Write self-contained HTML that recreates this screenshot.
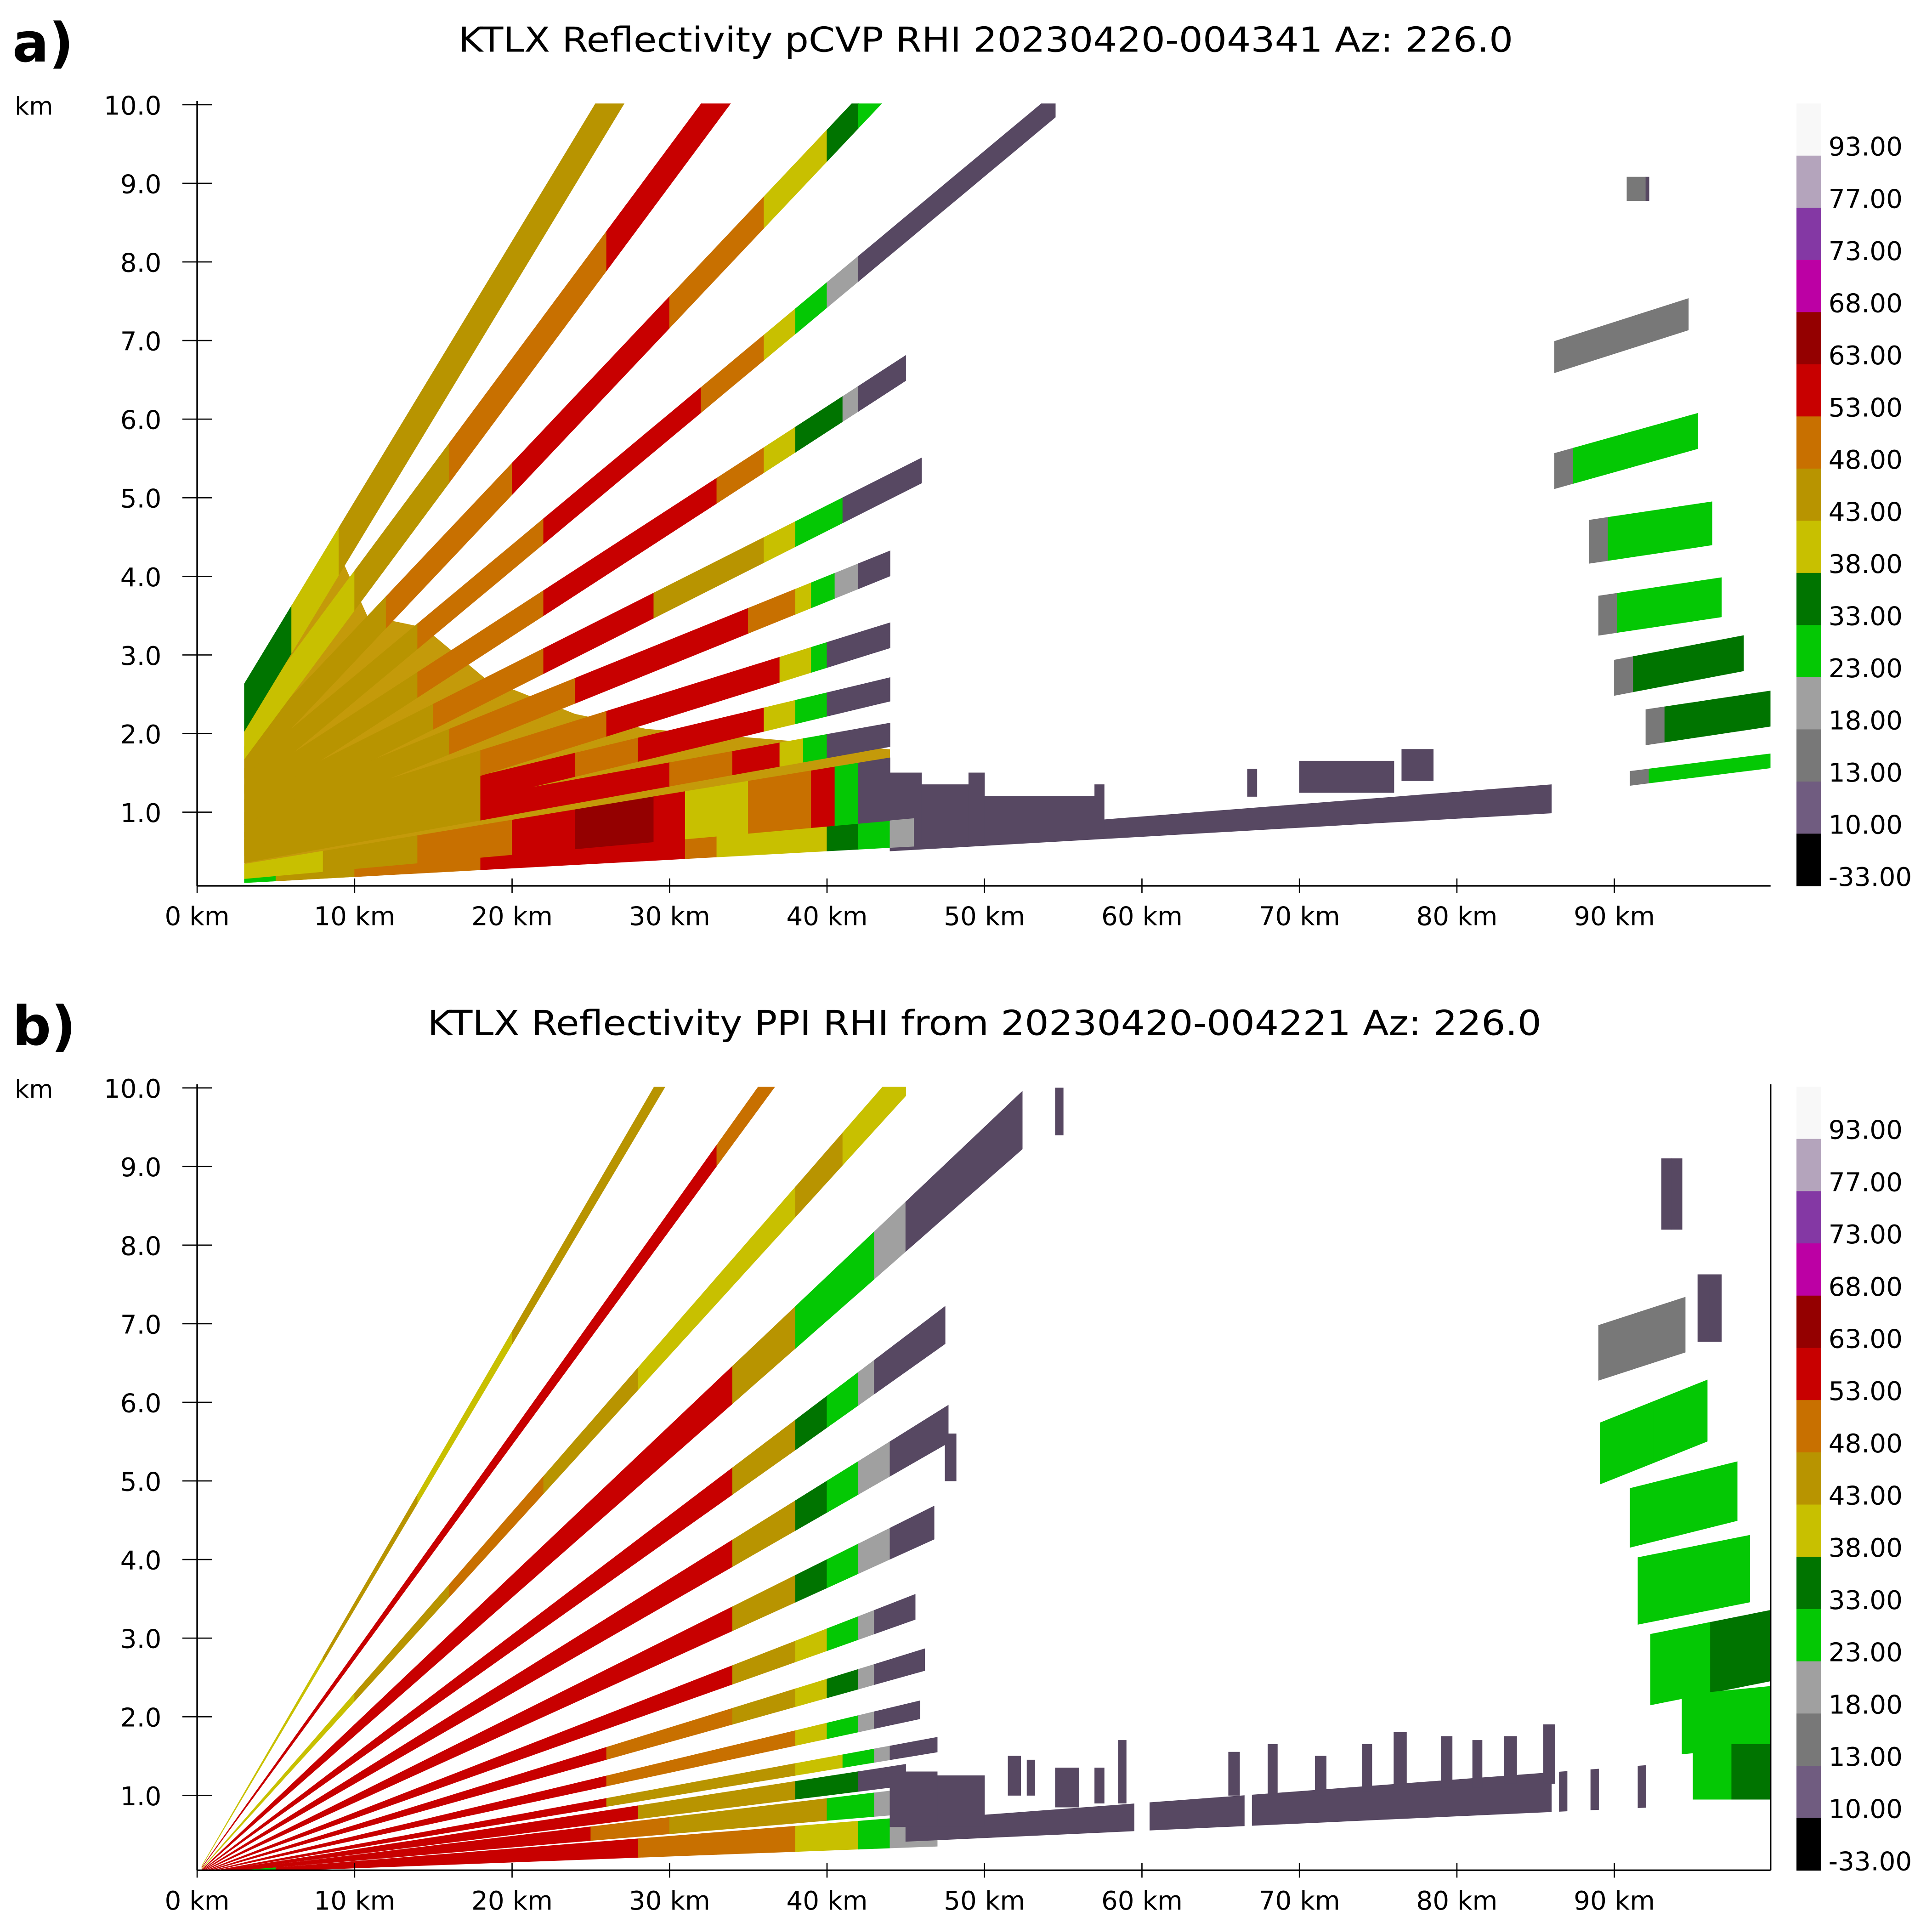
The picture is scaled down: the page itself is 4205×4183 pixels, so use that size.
<!DOCTYPE html>
<html><head><meta charset="utf-8">
<style>
html,body{margin:0;padding:0;background:#fff;}
svg{display:block;font-family:"DejaVu Sans","Liberation Sans",sans-serif;}
</style></head>
<body>
<svg id="fig" width="4205" height="4183" viewBox="0 0 1568 1560" preserveAspectRatio="none" xmlns="http://www.w3.org/2000/svg">
<rect x="0" y="0" width="1568" height="1560" fill="#fff"/>
<text x="10" y="50" font-size="44" font-weight="bold">a)</text>
<text x="372" y="42" font-size="28" textLength="856" lengthAdjust="spacingAndGlyphs">KTLX Reflectivity pCVP RHI 20230420-004341 Az: 226.0</text>
<text x="10" y="848" font-size="44" font-weight="bold">b)</text>
<text x="347" y="840" font-size="28" textLength="904" lengthAdjust="spacingAndGlyphs">KTLX Reflectivity PPI RHI from 20230420-004221 Az: 226.0</text>
<defs>
<clipPath id="clipA"><rect x="160" y="84" width="1277" height="635"/></clipPath>
<clipPath id="clipB"><rect x="160" y="882" width="1277" height="636"/></clipPath>
</defs>
<g id="panelA" clip-path="url(#clipA)"></g>
<g id="panelB" clip-path="url(#clipB)"></g>
<g id="axesA"></g>
<g id="axesB"></g>
</svg>
<script>
const cbLabels = ["93.00","77.00","73.00","68.00","63.00","53.00","48.00","43.00","38.00","33.00","23.00","18.00","13.00","10.00","-33.00"];
const cbColors = ["#f8f8f8","#b4a4bc","#8438a4","#bc00a4","#940000","#c80000","#c87000","#b89400","#c8c000","#007400","#04c804","#a0a0a0","#787878","#705c80","#000000"];
const cbThresh = [93,77,73,68,63,53,48,43,38,33,23,18,13,10,-33];
const xTicks = [0,10,20,30,40,50,60,70,80,90];
const yTicks = [1,2,3,4,5,6,7,8,9,10];

// ---- Panel a (pCVP): beam centre height = h0 + s*r, thickness w
const aBeamS  = [0.331,0.270,0.212,0.167,0.130,0.101,0.081,0.0625,0.048,0.036];
const aBeamH0 = [1.34,1.12,1.00,0.90,0.80,0.70,0.60,0.50,0.45,0.40];
const aBeamW  = [0.60,0.50,0.40,0.32,0.32,0.32,0.32,0.32,0.30,0.30];
const aBeamR0 = [3,3,3,3,3,3,3,3,3,3];
const aBeamR1 = [30,36,44,54.5,45,46,44,44,44,44];
const aSegR = [
 [6,9,13,18,30],
 [10,16,22,26,36],
 [12,20,30,36,40,42,44],
 [14,22,32,36,38,40,42,54.5],
 [14,22,27,33,36,38,41,42,45],
 [15,22,29,36,38,41,46],
 [16,24,35,38,39,40.5,42,44],
 [18,26,37,39,40,44],
 [18,24,28,36,38,40,44],
 [18,30,34,37,38.5,40,44]];
const aSegZ = [
 [37,40,43,45,47],
 [40,44,48,51,53],
 [44,48,55,50,40,35,28],
 [44,48,56,50,40,30,18,11],
 [44,48,57,60,50,40,35,18,11],
 [44,48,58,47,40,30,11],
 [44,48,57,49,40,28,18,11],
 [46,48,57,40,30,11],
 [47,56,48,57,40,30,11],
 [47,57,48,56,40,30,11]];
const aLowLoH0 = [0.07,0.10];
const aLowLoS  = [0.0109,0.018];
const aLowHiH0 = [0.10,0.24];
const aLowHiS  = [0.018,0.033];
const aLowSegR = [
 [5,10,18,31,33,38,40,42,44,45.5],
 [8,14,20,24,29,31,35,39,40.5,42,44]];
const aLowSegZ = [
 [28,44,50,56,48,42,39,35,27,18],
 [40,44,48,57,63,56,40,48,54,30,11]];
const aNearR = [3,3,9,10.8,14.4,18.3,24,28.5,44,44];
const aNearH = [0.1,2.35,4.3,3.5,3.35,2.7,2.25,2.06,1.8,0.55];
const aFarR0 = [91,92,90,89,88.4,86.2,86.2,90.8];
const aFarR1 = [99.9,99.9,98.2,96.8,96.2,95.3,94.7,92.2];
const aFarHc = [1.43,2.08,2.71,3.5,4.44,5.34,6.79,8.93];
const aFarS  = [0.025,0.03,0.038,0.03,0.03,0.056,0.064,0];
const aFarW  = [0.18,0.45,0.45,0.5,0.55,0.45,0.4,0.3];
const aFarZ  = [25,34,34,30,30,27,17,11];
const aBlockR0 = [44,46,49,50,57,66.7,70,76.5];
const aBlockR1 = [46,49,50,57,57.6,67.3,76,78.5];
const aBlockH0 = [0.55,0.6,0.6,0.7,0.8,1.2,1.25,1.4];
const aBlockH1 = [1.5,1.35,1.5,1.2,1.35,1.55,1.65,1.8];
const aThinR = [44,86];

// ---- Panel b (PPI)
const bBeamLo = [0.337,0.273,0.220,0.176,0.142,0.115,0.091,0.071,0.056,0.043,0.033,0.025,0.017,0.0075];
const bBeamHi = [0.345,0.281,0.230,0.190,0.152,0.125,0.100,0.078,0.062,0.048,0.037,0.031,0.024,0.016];
const bBeamR1 = [30,37,45,52.4,47.5,47.7,46.8,45.6,46.2,45.9,47,45,47,47];
const bSegR = [
 [8,14,20,25,30],
 [10,16,22,28,33,37],
 [10,16,22,28,34,38,41,45],
 [10,18,26,34,38,40,43,45,52.4],
 [10,18,26,34,38,40,42,43,47.5],
 [10,18,26,34,38,40,42,44,47.7],
 [10,18,26,34,38,40,42,44,46.8],
 [10,18,26,34,38,40,42,43,45.6],
 [10,18,26,34,38,40,42,43,46.2],
 [10,18,26,32,38,40,42,43,45.9],
 [10,18,26,32,38,41,43,44,47],
 [5,28,38,42,45],
 [5,25,30,40,43,47],
 [5,28,33,38,42,44,47]];
const bSegZ = [
 [40,44,42,46,45],
 [55,56,57,56,55,52],
 [42,46,50,44,40,40,44,40],
 [55,57,56,55,46,28,30,18,11],
 [55,57,56,55,46,35,28,18,11],
 [55,56,57,55,47,35,28,18,11],
 [55,56,58,55,47,35,28,18,11],
 [55,56,57,54,47,40,28,18,11],
 [56,57,55,52,47,40,35,18,11],
 [55,57,55,50,48,40,30,18,11],
 [56,58,55,47,44,40,28,18,11],
 [56,56,46,33,11],
 [56,56,50,44,30,18],
 [25,56,48,52,42,28,18]];
const bLowR0 = [45,60.5,67,86.5,88.5,91.5];
const bLowR1 = [59.5,66.5,86,87,89,92];
const bLowLo = 0.0092;
const bLowHi = 0.0150;
const bBlockR0 = [44,47,51.5,52.7,54.5,57,58.5,65.5,68,71,74,76,79,81,83,85.5,47.5,54.5];
const bBlockR1 = [47,50,52.3,53.2,56,57.6,59,66.2,68.6,71.7,74.6,76.8,79.7,81.6,83.8,86.2,48.2,55];
const bBlockH0 = [0.6,0.6,1.0,1.0,0.85,0.9,0.9,1.0,1.0,1.0,1.05,1.1,1.1,1.1,1.15,1.15,5.0,9.4];
const bBlockH1 = [1.3,1.25,1.5,1.45,1.35,1.35,1.7,1.55,1.65,1.5,1.65,1.8,1.75,1.7,1.75,1.9,5.6,10];
const bFarR0 = [89,95.3,89.1,91,91.5,92.3,94.3,95,93];
const bFarR1 = [94.5,96.8,95.9,97.8,98.6,99.9,99.9,99.9,94.3];
const bFarHc = [6.63,7.2,5.35,4.53,3.6,2.6,1.9,1.3,8.65];
const bFarS  = [0.065,0,0.08,0.05,0.04,0.04,0.02,0,0];
const bFarW  = [0.7,0.85,0.78,0.75,0.85,0.9,0.75,0.7,0.9];
const bFarZ  = [17,11,26,26,28,30,26,30,11];
const bFarZ2 = [17,11,27,28,30,34,30,34,11];

const SVGNS = "http://www.w3.org/2000/svg";
const XA = km => 160 + km * 12.78;
const YA = h => 723 - h * 63.8;
const YB = h => 1521 - h * 63.8;

function zColor(z){
  if (z >= 10 && z < 13) return "#574862";
  for (let i = 0; i < cbThresh.length; i++) if (z >= cbThresh[i]) return cbColors[i];
  return "#000";
}
function poly(g, Y, r0, r1, lo0, lo1, hi0, hi1, z){
  const p = document.createElementNS(SVGNS, "polygon");
  p.setAttribute("points", [[XA(r0),Y(lo0)],[XA(r1),Y(lo1)],[XA(r1),Y(hi1)],[XA(r0),Y(hi0)]].map(a=>a[0].toFixed(2)+","+a[1].toFixed(2)).join(" "));
  p.setAttribute("fill", zColor(z));
  p.setAttribute("stroke", zColor(z));
  p.setAttribute("stroke-width", "0.4");
  
  
  g.appendChild(p);
}
function band(g, Y, rs, re, loF, hiF, segR, segZ){
  let r0 = rs;
  for (let i = 0; i < segR.length; i++){
    const r1 = Math.min(segR[i], re);
    if (r1 > r0) poly(g, Y, r0, r1, loF(r0), loF(r1), hiF(r0), hiF(r1), segZ[i]);
    r0 = r1;
  }
}
function block(g, Y, r0, r1, h0, h1, z){ poly(g, Y, r0, r1, h0, h0, h1, h1, z); }

const gA = document.getElementById("panelA");
const nf = document.createElementNS(SVGNS, "polygon");
nf.setAttribute("points", aNearR.map((r,i)=>XA(r).toFixed(2)+","+YA(aNearH[i]).toFixed(2)).join(" "));
nf.setAttribute("fill", "#c49a0a");


gA.appendChild(nf);
band(gA, YA, aThinR[0], aThinR[1], r=>0.0115*r, r=>0.0157*r, [aThinR[1]], [11]);
for (let i = 0; i < aBlockR0.length; i++) block(gA, YA, aBlockR0[i], aBlockR1[i], aBlockH0[i], aBlockH1[i], 11);
for (let i = 0; i < aLowLoH0.length; i++)
  band(gA, YA, 3, 46, r=>aLowLoH0[i]+aLowLoS[i]*r, r=>aLowHiH0[i]+aLowHiS[i]*r, aLowSegR[i], aLowSegZ[i]);
for (let i = aBeamS.length - 1; i >= 0; i--)
  band(gA, YA, aBeamR0[i], aBeamR1[i], r=>aBeamH0[i]+aBeamS[i]*r-aBeamW[i]/2, r=>aBeamH0[i]+aBeamS[i]*r+aBeamW[i]/2, aSegR[i], aSegZ[i]);
for (let i = 0; i < aFarR0.length; i++)
  band(gA, YA, aFarR0[i], aFarR1[i], r=>aFarHc[i]+aFarS[i]*(r-aFarR0[i])-aFarW[i]/2, r=>aFarHc[i]+aFarS[i]*(r-aFarR0[i])+aFarW[i]/2, [aFarR0[i]+1.2, aFarR1[i]], [17, aFarZ[i]]);

const gB = document.getElementById("panelB");
for (let i = 0; i < bBeamLo.length; i++) band(gB, YB, 0.3, bBeamR1[i], r=>bBeamLo[i]*r, r=>bBeamHi[i]*r, bSegR[i], bSegZ[i]);
for (let i = 0; i < bLowR0.length; i++) band(gB, YB, bLowR0[i], bLowR1[i], r=>bLowLo*r, r=>bLowHi*r, [bLowR1[i]], [11]);
for (let i = 0; i < bBlockR0.length; i++) block(gB, YB, bBlockR0[i], bBlockR1[i], bBlockH0[i], bBlockH1[i], 11);
for (let i = 0; i < bFarR0.length; i++)
  band(gB, YB, bFarR0[i], bFarR1[i], r=>bFarHc[i]+bFarS[i]*(r-bFarR0[i])-bFarW[i]/2, r=>bFarHc[i]+bFarS[i]*(r-bFarR0[i])+bFarW[i]/2, [(bFarR0[i]+bFarR1[i])/2, bFarR1[i]], [bFarZ[i], bFarZ2[i]]);

function mk(tag, attrs, parent){
  const e = document.createElementNS(SVGNS, tag);
  for (const k in attrs) e.setAttribute(k, attrs[k]);
  parent.appendChild(e);
  return e;
}
function axes(gid, Y, top, bottom, cbTop, cbBot, boxed){
  const g = document.getElementById(gid);
  let e = mk("line", {x1:160,y1:top,x2:160,y2:bottom,stroke:"#000","stroke-width":1.3}, g);
  
  
  e = mk("line", {x1:160,y1:bottom,x2:1437,y2:bottom,stroke:"#000","stroke-width":1.3}, g);
  
  
  if (boxed){
    e = mk("line", {x1:1437,y1:top,x2:1437,y2:bottom,stroke:"#000","stroke-width":1.3}, g);
    
    
  }
  e = mk("text", {x:12,y:top+11,"font-size":20}, g);
  e.textContent = "km";
  
  
  yTicks.forEach(v => {
    const y = Y(v);
    let t = mk("line", {x1:148,y1:y,x2:172,y2:y,stroke:"#000","stroke-width":1}, g);
    
    
    t = mk("text", {x:131,y:y+8,"font-size":21,"text-anchor":"end"}, g);
    t.textContent = v.toFixed(1);
    
    
  });
  xTicks.forEach(v => {
    const x = XA(v);
    let t = mk("line", {x1:x,y1:bottom-6,x2:x,y2:bottom+6,stroke:"#000","stroke-width":1}, g);
    
    
    t = mk("text", {x:x,y:bottom+32,"font-size":21,"text-anchor":"middle"}, g);
    t.textContent = v + " km";
    
    
  });
  const bh = (cbBot - cbTop) / cbColors.length;
  cbColors.forEach((c, i) => {
    let r = mk("rect", {x:1458,y:cbTop + i*bh,width:20,height:bh+0.3,fill:c}, g);
    
    
    r = mk("text", {x:1484,y:cbTop + (i+1)*bh,"font-size":21}, g);
    r.textContent = cbLabels[i];
    
    
  });
}
axes("axesA", YA, 82, 719, 84, 719, false);
axes("axesB", YB, 880, 1518, 882, 1518, true);
</script>
</body></html>
